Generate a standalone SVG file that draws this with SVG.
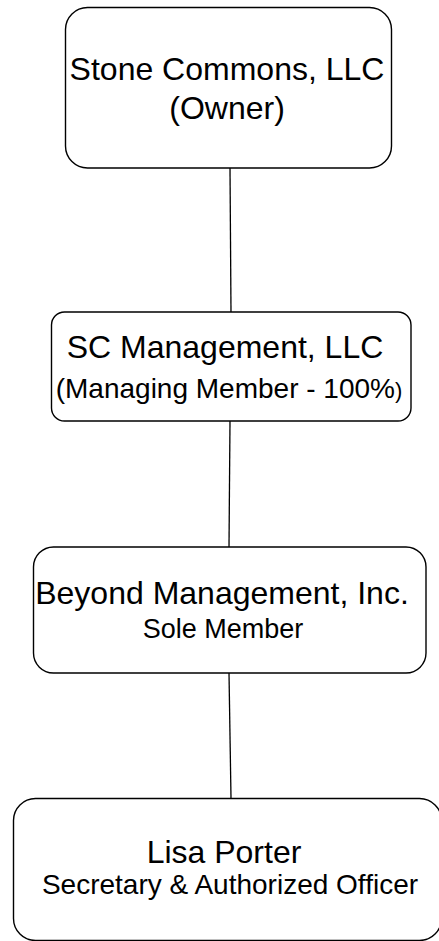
<svg xmlns="http://www.w3.org/2000/svg" width="439" height="941" viewBox="0 0 439 941">
<style>
.box{fill:#fff;stroke:#000;stroke-width:1.4}
.t{font-family:"Liberation Sans",Arial,sans-serif;fill:#000;text-anchor:middle}
.l{stroke:#000;stroke-width:1.3;fill:none}
</style>
<rect width="439" height="941" fill="#fff"/>
<g id="connectors">
<line class="l" x1="230" y1="168" x2="231" y2="312"/>
<line class="l" x1="230" y1="421" x2="229" y2="547"/>
<line class="l" x1="229" y1="673" x2="231" y2="798"/>
</g>
<g id="node-stone-commons">
<rect class="box" x="65.5" y="7.5" width="326" height="160.5" rx="22"/>
<text class="t" x="227" y="80" font-size="32">Stone Commons, LLC</text>
<text class="t" x="227" y="119" font-size="32">(Owner)</text>
</g>
<g id="node-sc-management">
<rect class="box" x="51.5" y="312" width="359.5" height="109" rx="13"/>
<text class="t" x="225" y="358" font-size="32">SC Management, LLC</text>
<text class="t" x="229" y="398" font-size="28">(Managing Member - 100%<tspan font-size="22">)</tspan></text>
</g>
<g id="node-beyond">
<rect class="box" x="33.5" y="547" width="392.5" height="126" rx="20"/>
<text class="t" x="222" y="604" font-size="32">Beyond Management, Inc.</text>
<text class="t" x="223" y="638" font-size="27">Sole Member</text>
</g>
<g id="node-lisa">
<rect class="box" x="13.5" y="798.5" width="428" height="142" rx="22"/>
<text class="t" x="224" y="863" font-size="32">Lisa Porter</text>
<text class="t" x="230" y="894" font-size="28">Secretary &amp; Authorized Officer</text>
</g>
</svg>
